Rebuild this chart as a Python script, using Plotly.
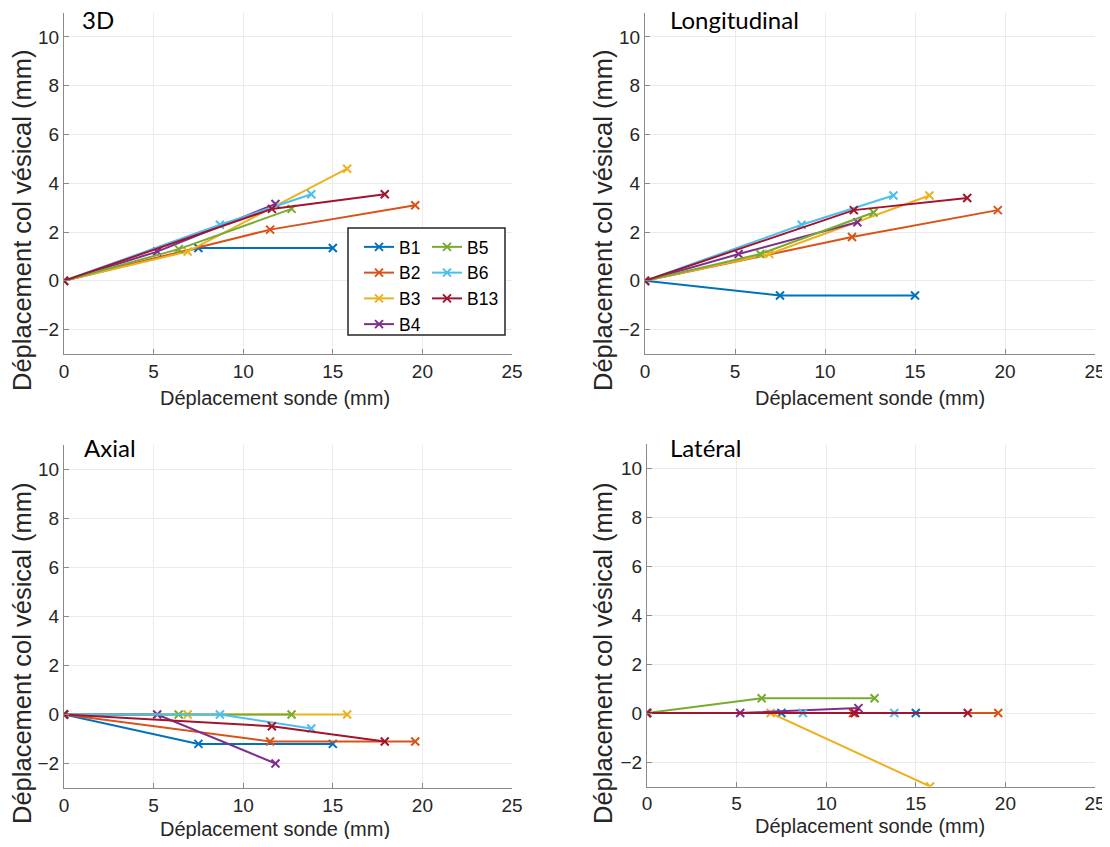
import plotly.graph_objects as go

# page offset (browser body margin)
OFF = 8
W, H = 1110 - OFF, 847 - 2 * OFF

series = ["B1", "B2", "B3", "B4", "B5", "B6", "B13"]
colors = ["#0072BD", "#D95319", "#EDB120", "#7E2F8E", "#77AC30", "#4DBEEE", "#A2142F"]

# probe displacement (mm), same for every panel
probe_x = [
    [0, 7.5, 15.0],
    [0, 11.5, 19.6],
    [0, 6.9, 15.8],
    [0, 5.2, 11.8],
    [0, 6.4, 12.7],
    [0, 8.7, 13.8],
    [0, 11.6, 17.9],
]

# bladder-neck displacement (mm) per panel
y_3d = [
    [0, 1.35, 1.35],
    [0, 2.1, 3.1],
    [0, 1.2, 4.6],
    [0, 1.2, 3.15],
    [0, 1.3, 2.95],
    [0, 2.3, 3.55],
    [0, 2.95, 3.55],
]
y_long = [
    [0, -0.6, -0.6],
    [0, 1.8, 2.9],
    [0, 1.1, 3.5],
    [0, 1.1, 2.4],
    [0, 1.1, 2.8],
    [0, 2.3, 3.5],
    [0, 2.9, 3.4],
]
y_axial = [
    [0, -1.2, -1.2],
    [0, -1.1, -1.1],
    [0, 0, 0],
    [0, 0, -2.0],
    [0, 0, 0],
    [0, 0, -0.57],
    [0, -0.48, -1.1],
]
y_lat = [
    [0, 0, 0],
    [0, 0, 0],
    [0, 0, -3.0],
    [0, 0, 0.2],
    [0, 0.6, 0.6],
    [0, 0, 0],
    [0, 0, 0],
]

panel_titles = ["3D", "Longitudinal", "Axial", "Latéral"]
panel_data = [y_3d, y_long, y_axial, y_lat]
x_ticks = [0, 5, 10, 15, 20, 25]
y_ticks = [-2, 0, 2, 4, 6, 8, 10]
x_title = "Déplacement sonde (mm)"
y_title = "Déplacement col vésical (mm)"

fig = go.Figure()

axis_ids = ["", "2", "3", "4"]
for p, (ydata, aid) in enumerate(zip(panel_data, axis_ids)):
    for i, name in enumerate(series):
        show = p == 0
        fig.add_trace(go.Scatter(
            x=probe_x[i], y=ydata[i], mode="lines+markers", name=name,
            line=dict(color=colors[i], width=2),
            marker=dict(symbol="x-thin", size=8, line=dict(color=colors[i], width=2)),
            xaxis="x" + aid, yaxis="y" + aid,
            showlegend=show,
            legend="legend" if i < 4 else "legend2",
        ))


def px(x):
    return (x - OFF) / W


def py(y):
    return 1 - (y - OFF) / H


xdoms = [[64, 512], [645, 1095], [64, 512], [647, 1095]]
ydoms = [[12.6, 354], [12.6, 354], [445, 788], [443.5, 786.5]]

axis_common = dict(
    showline=True, linecolor="#8a8a8a", linewidth=1,
    ticks="inside", ticklen=5, tickcolor="#8a8a8a", tickwidth=1,
    showgrid=True, gridcolor="#ebebeb", gridwidth=1,
    zeroline=False, mirror=False,
    tickfont=dict(family="Liberation Sans, Arial", size=19, color="#262626"),
    automargin=False, ticklabeloverflow="allow",
)

layout = dict(
    width=W, height=H, margin=dict(l=0, r=0, t=0, b=0),
    paper_bgcolor="white", plot_bgcolor="white",
    font=dict(family="Liberation Sans, Arial", color="#262626"),
)
for k, aid in enumerate(axis_ids):
    layout["xaxis" + aid] = dict(
        axis_common, domain=[px(xdoms[k][0]), px(xdoms[k][1])],
        range=[0, 25], tickvals=x_ticks, anchor="y" + aid,
    )
    layout["yaxis" + aid] = dict(
        axis_common, domain=[py(ydoms[k][1]), py(ydoms[k][0])],
        range=[-3, 11], tickvals=y_ticks, anchor="x" + aid,
    )

fig.update_layout(**layout)

legend_font = dict(family="Liberation Sans, Arial", size=17.5, color="#000000")
fig.update_layout(
    legend=dict(x=px(359), y=py(229), xanchor="left", yanchor="top",
                bgcolor="rgba(0,0,0,0)", font=legend_font, tracegroupgap=0,
                itemwidth=30),
    legend2=dict(x=px(427), y=py(229), xanchor="left", yanchor="top",
                 bgcolor="rgba(0,0,0,0)", font=legend_font, tracegroupgap=0,
                 itemwidth=30),
)

fig.add_shape(type="rect", xref="paper", yref="paper",
              x0=px(348), x1=px(505), y0=py(335), y1=py(228),
              line=dict(color="#262626", width=1.5), fillcolor="white", layer="above")

annotations = []
title_pos = [(80, 19), (668, 19), (82, 447), (668, 447)]
for t, (tx, ty) in zip(panel_titles, title_pos):
    annotations.append(dict(text=t, x=px(tx), y=py(ty), xref="paper", yref="paper",
                            xanchor="left", yanchor="middle", showarrow=False,
                            font=dict(family="Lato", size=24, color="#000000")))
xt_pos = [(275, 398), (870, 398), (275, 829), (870, 826)]
for tx, ty in xt_pos:
    annotations.append(dict(text=x_title, x=px(tx), y=py(ty), xref="paper", yref="paper",
                            xanchor="center", yanchor="middle", showarrow=False,
                            font=dict(family="Liberation Sans, Arial", size=20, color="#262626")))
yt_pos = [(22, 220), (603, 220), (22, 653), (603, 653)]
for tx, ty in yt_pos:
    annotations.append(dict(text=y_title, x=px(tx), y=py(ty), xref="paper", yref="paper",
                            xanchor="center", yanchor="middle", showarrow=False, textangle=-90,
                            font=dict(family="Liberation Sans, Arial", size=25.5, color="#262626")))
fig.update_layout(annotations=annotations)

fig.write_html("out.html")
